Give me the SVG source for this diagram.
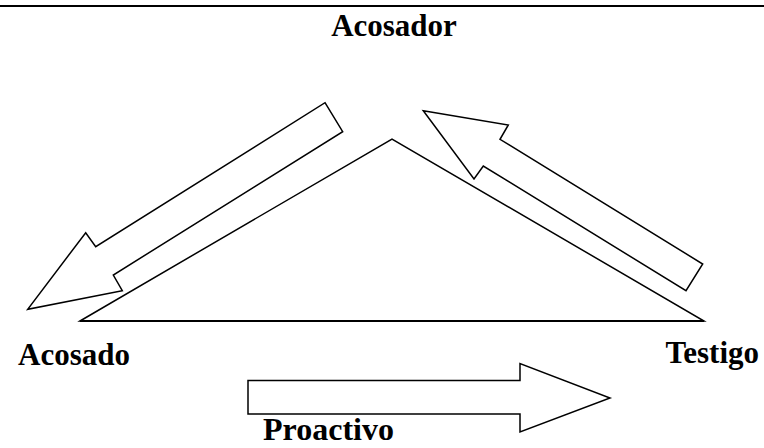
<svg xmlns="http://www.w3.org/2000/svg" width="764" height="448" viewBox="0 0 764 448">
<style>
.lbl{font-family:"Liberation Serif","Times New Roman",serif;font-weight:bold;font-size:31px;fill:#000}
.sh{fill:#fff;stroke:#000;stroke-width:1.5;stroke-linejoin:miter}
</style>
<rect width="764" height="448" fill="#fff"/>
<line x1="0" y1="6" x2="764" y2="6" stroke="#000" stroke-width="2"/>
<g id="triangle">
<polygon class="sh" points="80,321 392,139 704,321"/>
<line x1="80" y1="321" x2="704" y2="321" stroke="#000" stroke-width="2"/>
</g>
<g id="connectors">
<polygon class="sh" points="325,102.7 342.7,131.7 113.3,275 122.3,290.7 27.7,309.3 85.7,232.7 95.7,246.7"/>
<polygon class="sh" points="423.3,110.7 508.3,125 500,139.3 702.7,264 686,290.7 483.3,166 474,179"/>
<polygon class="sh" points="248,380.5 520,380.5 520,363.5 610,398 520,432 520,414 248,414"/>
</g>
<g id="acosador"><text class="lbl" x="394" y="36" text-anchor="middle">Acosador</text></g>
<g id="acosado"><text class="lbl" x="18" y="365">Acosado</text></g>
<g id="testigo"><text class="lbl" x="759" y="363" text-anchor="end">Testigo</text></g>
<g id="proactivo"><text class="lbl" x="263" y="440" style="font-size:32px">Proactivo</text></g>
</svg>
